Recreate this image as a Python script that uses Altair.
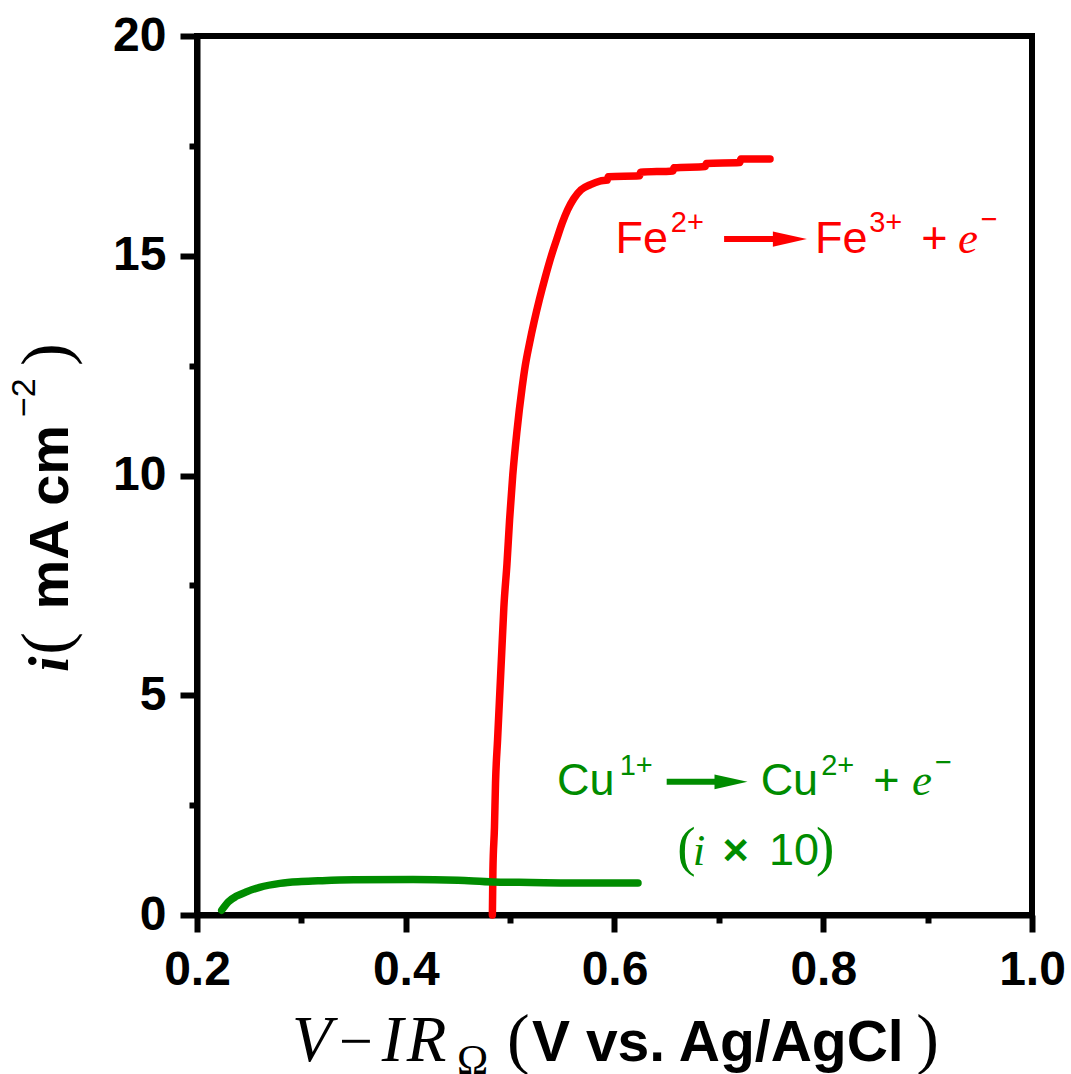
import altair as alt
import pandas as pd

# ---------------- data ----------------
fe_v = [0.483, 0.4835, 0.485, 0.486, 0.488, 0.490, 0.492, 0.494, 0.497, 0.4995,
        0.5025, 0.5065, 0.5115, 0.5145, 0.5185, 0.523, 0.528, 0.5335, 0.5395, 0.545,
        0.550, 0.555, 0.561, 0.568, 0.577, 0.586, 0.593, 0.594, 0.624, 0.625,
        0.656, 0.657, 0.687, 0.688, 0.720, 0.721, 0.749]
fe_i = [0.0, 1.0, 2.0, 3.0, 4.0, 5.0, 6.0, 7.0, 8.0, 9.0,
        10.0, 11.0, 12.0, 12.5, 13.0, 13.5, 14.0, 14.5, 15.0, 15.4,
        15.75, 16.04, 16.3, 16.5, 16.62, 16.7, 16.72, 16.8, 16.82, 16.9,
        16.93, 17.0, 17.03, 17.1, 17.12, 17.2, 17.2]

cu_v = [0.2237, 0.230, 0.238, 0.2476, 0.260, 0.2795, 0.300, 0.320, 0.350,
        0.407, 0.450, 0.4836, 0.520, 0.560, 0.600, 0.6225]
cu_i = [0.11, 0.30, 0.43, 0.53, 0.63, 0.72, 0.76, 0.78, 0.80,
        0.81, 0.79, 0.75, 0.74, 0.73, 0.73, 0.73]

x_ticks = [0.2, 0.3, 0.4, 0.5, 0.6, 0.7, 0.8, 0.9, 1.0]
y_ticks = [0, 2.5, 5, 7.5, 10, 12.5, 15, 17.5, 20]

RED = "#ff0000"
GREEN = "#008c00"
BLACK = "#000000"

lines = pd.concat([
    pd.DataFrame({"x": fe_v, "y": fe_i, "series": "Fe", "order": range(len(fe_v))}),
    pd.DataFrame({"x": cu_v, "y": cu_i, "series": "Cu", "order": range(len(cu_v))}),
])

# annotation pieces: text, x, y (data units), size, color
sans_regular = pd.DataFrame([
    ("Fe", 0.601, 15.06, 45, RED), ("2+", 0.654, 15.54, 29, RED),
    ("Fe", 0.792, 15.06, 45, RED), ("3+", 0.844, 15.54, 29, RED),
    ("+", 0.894, 15.06, 45, RED), ("\u2212", 0.951, 15.61, 29, RED),
    ("Cu", 0.545, 2.73, 45, GREEN), ("1+", 0.605, 3.19, 29, GREEN),
    ("Cu", 0.740, 2.73, 45, GREEN), ("2+", 0.798, 3.19, 29, GREEN),
    ("+", 0.848, 2.73, 45, GREEN), ("\u2212", 0.907, 3.25, 29, GREEN),
    ("10", 0.748, 1.14, 45, GREEN),
], columns=["t", "x", "y", "s", "c"])

serif_italic = pd.DataFrame([
    ("e", 0.929, 15.06, 45, RED),
    ("e", 0.885, 2.73, 45, GREEN),
    ("i", 0.675, 1.14, 45, GREEN),
    ("V", 0.291, -3.32, 65, BLACK),
    ("I", 0.377, -3.32, 65, BLACK),
    ("R", 0.401, -3.32, 65, BLACK),
], columns=["t", "x", "y", "s", "c"])

serif_regular = pd.DataFrame([
    ("(", 0.660, 1.14, 55, GREEN), (")", 0.793, 1.14, 55, GREEN),
    ("\u2212", 0.336, -3.32, 60, BLACK),
    ("\u03a9", 0.449, -3.62, 42, BLACK),
    ("(", 0.497, -3.32, 68, BLACK), (")", 0.889, -3.32, 68, BLACK),
], columns=["t", "x", "y", "s", "c"])

sans_bold = pd.DataFrame([
    ("\u00d7", 0.7035, 1.14, 45, GREEN),
    ("V vs. Ag/AgCl", 0.521, -3.32, 57, BLACK),
], columns=["t", "x", "y", "s", "c"])

rot_serif_bi = pd.DataFrame([("i", 0.0764, 5.53, 56, BLACK)], columns=["t", "x", "y", "s", "c"])
rot_serif = pd.DataFrame([("(", 0.0764, 5.92, 68, BLACK), (")", 0.0764, 12.49, 68, BLACK)],
                         columns=["t", "x", "y", "s", "c"])
rot_sans_bold = pd.DataFrame([("mA cm", 0.0764, 6.95, 56, BLACK)], columns=["t", "x", "y", "s", "c"])
rot_sans = pd.DataFrame([("\u22122", 0.0448, 11.33, 34, BLACK)], columns=["t", "x", "y", "s", "c"])

arrows = pd.DataFrame([
    (0.705, 0.757, 15.38, 0.768, 1156, RED),
    (0.650, 0.700, 3.03, 0.7116, 1089, GREEN),
], columns=["x", "x2", "y", "hx", "hs", "c"])

# ---------------- scales / axes ----------------
xs = alt.Scale(domain=[0.2, 1.0], nice=False, zero=False)
ys = alt.Scale(domain=[0, 20], nice=False, zero=False)

x_axis = alt.Axis(
    values=x_ticks, title=None,
    labelExpr="round(datum.value*10) % 2 == 0 ? format(datum.value, '.1f') : ''",
    tickSize={"condition": {"test": "round(datum.value*10) % 2 == 0", "value": 17}, "value": 8},
    labelPadding=14, labelFlush=False, labelOverlap=False, labelBound=False,
)
y_axis = alt.Axis(
    values=y_ticks, title=None,
    labelExpr="datum.value % 5 == 0 ? format(datum.value, 'd') : ''",
    tickSize={"condition": {"test": "datum.value % 5 == 0", "value": 17}, "value": 8},
    labelPadding=14, labelFlush=False, labelOverlap=False, labelBound=False,
)


def X(field):
    return alt.X(field, type="quantitative", scale=xs, axis=x_axis, title=None)


def Y(field):
    return alt.Y(field, type="quantitative", scale=ys, axis=y_axis, title=None)


line_chart = alt.Chart(lines).mark_line(
    strokeWidth=7.5, strokeCap="round", strokeJoin="round", interpolate="monotone"
).encode(
    x=X("x"),
    y=Y("y"),
    color=alt.Color("series:N", scale=alt.Scale(domain=["Fe", "Cu"], range=[RED, GREEN]), legend=None),
    detail="series:N",
    order="order:Q",
)


def text_layer(df, font, weight="normal", style="normal", angle=0):
    kw = dict(font=font, fontWeight=weight, fontStyle=style, align="left", baseline="alphabetic")
    if angle:
        kw["angle"] = angle
    return alt.Chart(df).mark_text(**kw).encode(
        x=X("x"),
        y=Y("y"),
        text="t:N",
        size=alt.Size("s:Q", scale=None),
        color=alt.Color("c:N", scale=None),
    )


SANS = "Liberation Sans"
SERIF = "Liberation Serif"

arrow_lines = alt.Chart(arrows).mark_rule(strokeWidth=6).encode(
    x=X("x"), x2="x2:Q",
    y=Y("y"),
    color=alt.Color("c:N", scale=None),
)
arrow_heads = alt.Chart(arrows).mark_point(
    shape="M-1,-0.45L1,0L-1,0.45Z", filled=True, opacity=1, strokeWidth=0
).encode(
    x=X("hx"),
    y=Y("y"),
    size=alt.Size("hs:Q", scale=None),
    color=alt.Color("c:N", scale=None),
)

chart = alt.layer(
    line_chart,
    arrow_lines,
    arrow_heads,
    text_layer(sans_regular, SANS),
    text_layer(serif_italic, SERIF, style="italic"),
    text_layer(serif_regular, SERIF),
    text_layer(sans_bold, SANS, weight="bold"),
    text_layer(rot_serif_bi, SERIF, weight="bold", style="italic", angle=270),
    text_layer(rot_serif, SERIF, angle=270),
    text_layer(rot_sans_bold, SANS, weight="bold", angle=270),
    text_layer(rot_sans, SANS, angle=270),
).properties(
    width=835, height=879,
    autosize=alt.AutoSizeParams(type="none"),
    padding={"left": 197, "top": 36, "right": 39, "bottom": 159},
    background="white",
).configure_view(
    stroke="black", strokeWidth=6,
).configure_axis(
    grid=False, domainColor="black", domainWidth=6, tickColor="black", tickWidth=6,
    labelFont=SANS, labelFontWeight="bold", labelFontSize=48, labelColor="black",
)

chart.save("out.html", embed_options={"renderer": "svg", "actions": False})
